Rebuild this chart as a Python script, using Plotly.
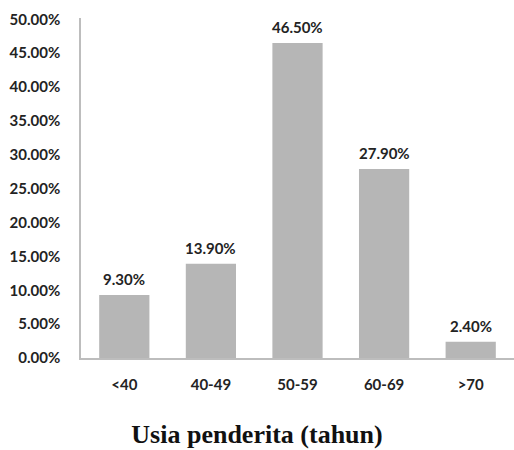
import plotly.graph_objects as go

# Distribusi usia penderita (persen)
age_groups = ["<40", "40-49", "50-59", "60-69", ">70"]
percentages = [9.3, 13.9, 46.5, 27.9, 2.4]
y_ticks = [0, 5, 10, 15, 20, 25, 30, 35, 40, 45, 50]
y_tick_labels = [f"{v:.2f}%" for v in y_ticks]

label_font = dict(family="Lato", size=15, color="#232323", weight="bold")

fig = go.Figure(
    go.Bar(
        x=age_groups,
        y=percentages,
        marker=dict(color="#b6b6b6", line=dict(width=0)),
        hoverinfo="x+y",
    )
)

# value labels sitting above each bar
for grp, val in zip(age_groups, percentages):
    fig.add_annotation(
        x=grp,
        y=val,
        text=f"{val:.2f}%",
        showarrow=False,
        yanchor="bottom",
        yshift=5,
        font=label_font,
    )

fig.update_layout(
    width=514,
    height=450,
    margin=dict(l=81, r=0, t=18, b=92),
    paper_bgcolor="white",
    plot_bgcolor="white",
    bargap=0.42,
    showlegend=False,
    title=dict(
        text="Usia penderita (tahun)",
        font=dict(family="Liberation Serif", size=26, color="#111111", weight="bold"),
        x=0.5,
        xref="container",
        xanchor="center",
        y=(450 - 434) / 450,
        yref="container",
        yanchor="middle",
    ),
    xaxis=dict(
        showgrid=False,
        showline=True,
        linecolor="#bdbdbd",
        linewidth=1.5,
        ticks="",
        tickfont=label_font,
        ticklabelstandoff=12,
    ),
    yaxis=dict(
        range=[0, 50.2],
        tickvals=y_ticks,
        ticktext=y_tick_labels,
        showgrid=False,
        zeroline=False,
        showline=True,
        linecolor="#bdbdbd",
        linewidth=1.5,
        ticks="",
        tickfont=label_font,
        ticklabelstandoff=16,
    ),
)

fig.write_html("out.html")
